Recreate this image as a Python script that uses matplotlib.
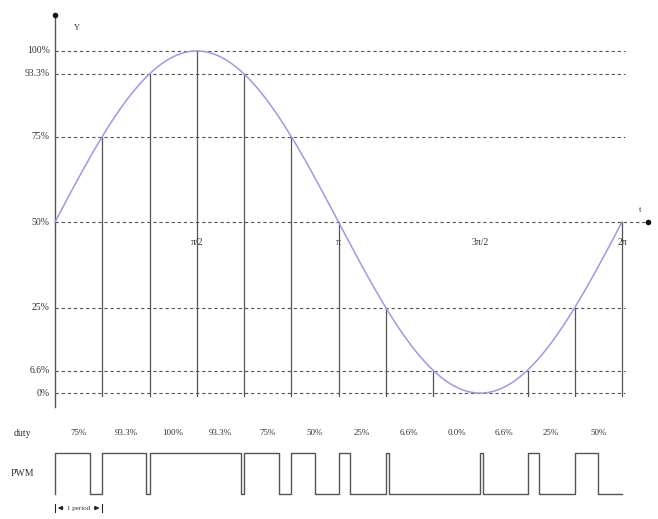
import numpy as np
import matplotlib
matplotlib.use("Agg")
import matplotlib.pyplot as plt

# levels marked on the y axis (percent of full scale)
levels = [0, 6.6, 25, 50, 75, 93.3, 100]
level_labels = ["0%", "6.6%", "25%", "50%", "75%", "93.3%", "100%"]

# sample instants k*pi/6 and the value of the wave there
n_steps = 12
samples = [75, 93.3, 100, 93.3, 75, 50, 25, 6.6, 0, 6.6, 25, 50]

# duty of each PWM period
duty = [75, 93.3, 100, 93.3, 75, 50, 25, 6.6, 0, 6.6, 25, 50]
duty_labels = ["75%", "93.3%", "100%", "93.3%", "75%", "50%",
               "25%", "6.6%", "0.0%", "6.6%", "25%", "50%"]

phase_ticks = [np.pi / 2, np.pi, 3 * np.pi / 2, 2 * np.pi]
phase_labels = ["\u03c0/2", "\u03c0", "3\u03c0/2", "2\u03c0"]

plt.rcParams['font.family'] = ['Liberation Serif', 'DejaVu Sans']

fig = plt.figure(figsize=(6.58, 5.19), dpi=100)
ax = fig.add_axes([0, 0, 1, 1])
ax.set_xlim(-0.6095, 6.682)
ax.set_ylim(-36.8, 114.9)
ax.axis('off')

T = 2 * np.pi / n_steps
grid_c = '#555555'
txt_c = '#333333'
fs = 7

# horizontal dashed level lines
for lv in levels:
    x_end = 2 * np.pi + 0.03 if lv != 50 else 6.57
    ax.plot([0, x_end], [lv, lv], ls=(0, (3, 2.5)), color=grid_c, lw=0.8)

# level labels
for lv, lab in zip(levels, level_labels):
    ax.text(-0.06, lv, lab, ha='right', va='center', fontsize=fs, color=txt_c)

# axes
ax.plot([0, 0], [-4, 110.5], color=grid_c, lw=1)
ax.plot(0, 110.5, marker='o', ms=3, color='#111111')
ax.plot(6.57, 50, marker='o', ms=3, color='#111111')
ax.text(0.244, 106.7, "Y", fontsize=6, color=txt_c, ha='center', va='center')
ax.text(6.48, 53.5, "t", fontsize=6, color=txt_c, ha='center', va='center')

# vertical sample lines
for k, v in enumerate(samples, start=1):
    if v > 0:
        ax.plot([k * T, k * T], [-0.8, v], color=grid_c, lw=0.9)

# the sine wave
t = np.linspace(0, 2 * np.pi, 400)
ax.plot(t, 50 + 50 * np.sin(t), color='#9a9ae8', lw=1.1)

# phase labels
for ph, lab in zip(phase_ticks, phase_labels):
    ax.text(ph, 44, lab, ha='center', va='center', fontsize=fs, color=txt_c)

# duty labels
ax.text(-0.36, -11.7, "duty", ha='center', va='center', fontsize=fs, color=txt_c)
for k, lab in enumerate(duty_labels):
    ax.text((k + 0.5) * T, -11.7, lab, ha='center', va='center',
            fontsize=6.5, color=txt_c)

# PWM waveform: list of (x, level) segments, transitions only where level changes
hi, lo = -17.5, -29.5
segs = []
for k, d in enumerate(duty):
    x0 = k * T
    x1 = x0 + d / 100 * T
    if d > 0:
        segs.append((x0, x1, hi))
    if d < 100:
        segs.append((x1, x0 + T, lo))
xs, ys = [], []
for a, b, lvl in segs:
    xs += [a, b]
    ys += [lvl, lvl]
xs = [0] + xs
ys = [lo] + ys
ax.plot(xs, ys, color=grid_c, lw=1)
ax.text(-0.36, -23.5, "PWM", ha='center', va='center', fontsize=fs, color=txt_c)

# one period marker
ym = -33.6
ax.text(T / 2, ym, "1 period", ha='center', va='center', fontsize=5, color=txt_c)
ax.annotate('', xy=(0, ym), xytext=(0.12, ym),
            arrowprops=dict(arrowstyle='-|>', color='#222222', lw=0.8, mutation_scale=6))
ax.annotate('', xy=(T, ym), xytext=(T - 0.12, ym),
            arrowprops=dict(arrowstyle='-|>', color='#222222', lw=0.8, mutation_scale=6))
ax.plot([0, 0], [ym - 1.2, ym + 1.2], color='#222222', lw=0.8)
ax.plot([T, T], [ym - 1.2, ym + 1.2], color='#222222', lw=0.8)

fig.savefig("out.png", dpi=100)
